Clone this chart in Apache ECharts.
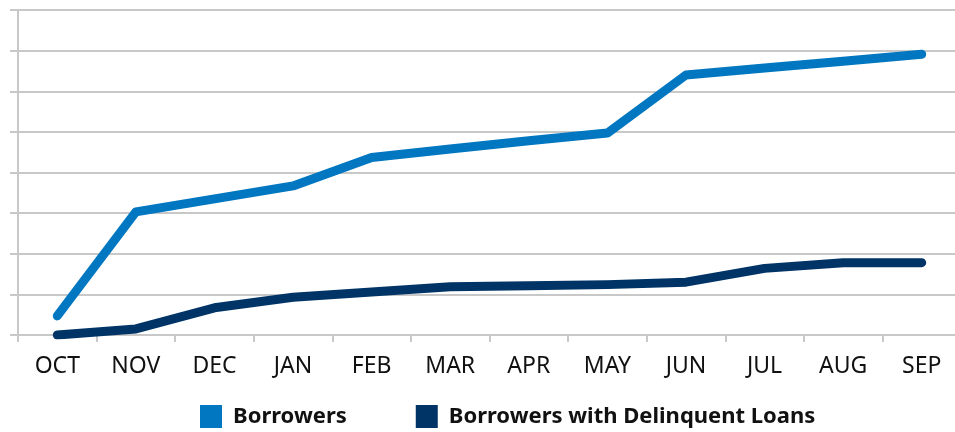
<!DOCTYPE html>
<html>
<head>
<meta charset="utf-8">
<script src="https://cdn.jsdelivr.net/npm/echarts@6/dist/echarts.min.js"></script>
<style>html,body{margin:0;padding:0;background:#fff}#c{width:955px;height:432px}</style>
</head>
<body>
<div id="c"></div>
<script>
const categories = ['OCT','NOV','DEC','JAN','FEB','MAR','APR','MAY','JUN','JUL','AUG','SEP'];
const borrowers = [0.47, 3.03, 3.35, 3.67, 4.37, 4.58, 4.78, 4.97, 6.40, 6.57, 6.74, 6.91];
const delinquent = [0.0, 0.15, 0.67, 0.93, 1.06, 1.19, 1.21, 1.24, 1.30, 1.64, 1.78, 1.78];
const seriesNames = ['Borrowers', 'Borrowers with Delinquent Loans'];

const chart = echarts.init(document.getElementById('c'), null, {renderer: 'canvas'});
const gray = '#c8c8c8';
chart.setOption({
  animation: false,
  textStyle: {fontFamily: 'Noto Sans'},
  grid: {left: 18, top: 10, height: 325, width: 943, containLabel: false, outerBoundsMode: 'none'},
  legend: {
    left: 195, top: 400,
    itemWidth: 22, itemHeight: 23, itemGap: 69,
    icon: 'rect',
    textStyle: {fontFamily: 'Noto Sans', fontWeight: 'bold', fontSize: 22, color: '#111', padding: [0,0,0,6]},
    data: seriesNames
  },
  xAxis: {
    type: 'category', data: categories, boundaryGap: true,
    axisLine: {lineStyle: {color: gray, width: 2}},
    axisTick: {show: true, length: 7, lineStyle: {color: gray, width: 2}},
    axisLabel: {color: '#111', fontSize: 23, margin: 20, fontFamily: 'Noto Sans'}
  },
  yAxis: {
    type: 'value', min: 0, max: 8, interval: 1,
    axisLine: {show: true, lineStyle: {color: gray, width: 2}},
    axisTick: {show: true, length: 8, lineStyle: {color: gray, width: 2}},
    axisLabel: {show: false},
    splitLine: {lineStyle: {color: gray, width: 2}}
  },
  series: [
    {name: seriesNames[0], type: 'line', data: borrowers, symbol: 'none', color: '#0077c0',
     lineStyle: {width: 9, color: '#0077c0', cap: 'round', join: 'round'}},
    {name: seriesNames[1], type: 'line', data: delinquent, symbol: 'none', color: '#003466',
     lineStyle: {width: 9, color: '#003466', cap: 'round', join: 'round'}}
  ]
});
</script>
</body>
</html>
